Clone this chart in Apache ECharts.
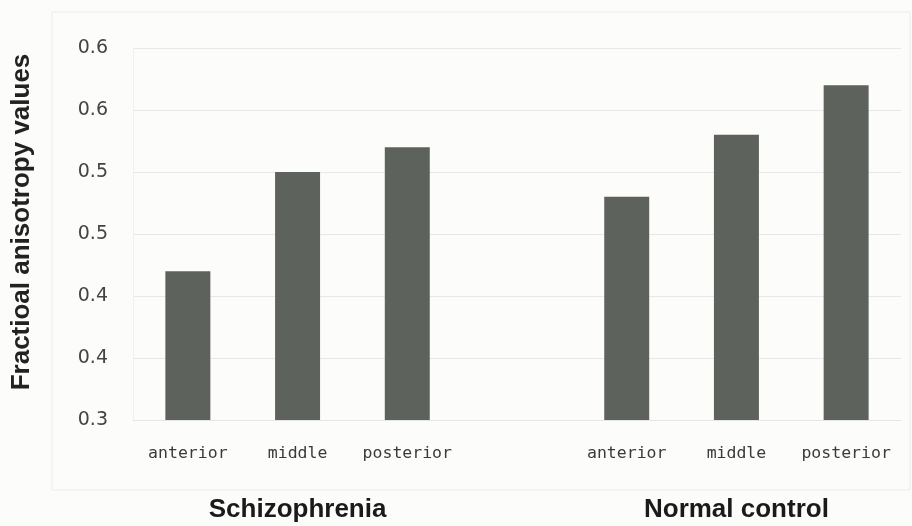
<!DOCTYPE html>
<html>
	<head>
		<meta charset="utf-8" />
		<title></title>
		<style>
			html,body{margin:0;padding:0;background:#fcfcfb;}
			#chart{width:912px;height:526px;}
		</style>
	</head>
	<body>
		<div id="chart"></div>
	</body>
	<script src="https://cdn.jsdelivr.net/npm/echarts@6/dist/echarts.min.js" type="text/javascript" charset="utf-8"></script>
	<script type="text/javascript">
		// regions along the bottom, one empty slot between the two groups
		var regions=["anterior","middle","posterior","","anterior","middle","posterior"];
		var groups=["","Schizophrenia","","","","Normal control",""];
		var faValues=[0.42,0.50,0.52,null,0.48,0.53,0.57];
		// tick labels as printed (one decimal, so they repeat)
		var yTickLabels=["0.3","0.4","0.4","0.5","0.5","0.6","0.6"];

		var myChart=echarts.init(document.getElementById('chart'));
		var option={
			backgroundColor:'#fcfcfb',
			animation:false,
			graphic:[{
				type:'rect',
				shape:{x:52,y:12,width:858,height:478},
				style:{fill:'none',stroke:'#ececec',lineWidth:1},
				silent:true
			}],
			grid:{left:133,right:11,top:48,bottom:106},
			xAxis:[{
				type:'category',
				data:regions,
				axisLine:{lineStyle:{color:'#e6e6e6'}},
				axisTick:{show:false},
				axisLabel:{interval:0,margin:25,fontFamily:'DejaVu Sans Mono',fontSize:16.5,color:'#3a3a3a'}
			},{
				type:'category',
				data:groups,
				position:'bottom',
				offset:70,
				axisLine:{show:false},
				axisTick:{show:false},
				axisLabel:{interval:0,margin:7,fontFamily:'Liberation Sans',fontWeight:'bold',fontSize:26,color:'#1a1a1a'}
			}],
			yAxis:{
				type:'value',
				min:0.3,
				max:0.6,
				interval:0.05,
				name:'Fractioal anisotropy values',
				nameLocation:'middle',
				nameGap:98,
				nameTextStyle:{fontFamily:'Liberation Sans',fontWeight:'bold',fontSize:26,color:'#222',padding:[0,0,0,24]},
				axisLine:{show:true,lineStyle:{color:'#f0f0f0'}},
				axisTick:{show:false},
				splitLine:{lineStyle:{color:'#e8e8e8'}},
				axisLabel:{
					margin:25,
					fontFamily:'DejaVu Sans',
					fontSize:19,
					color:'#444',
					formatter:function(v){
						return yTickLabels[Math.round((v-0.3)/0.05)];
					}
				}
			},
			series:[{
				type:'bar',
				data:faValues,
				barWidth:'41%',
				itemStyle:{color:'#5e625d'}
			}]
		};
		myChart.setOption(option);
	</script>
</html>
